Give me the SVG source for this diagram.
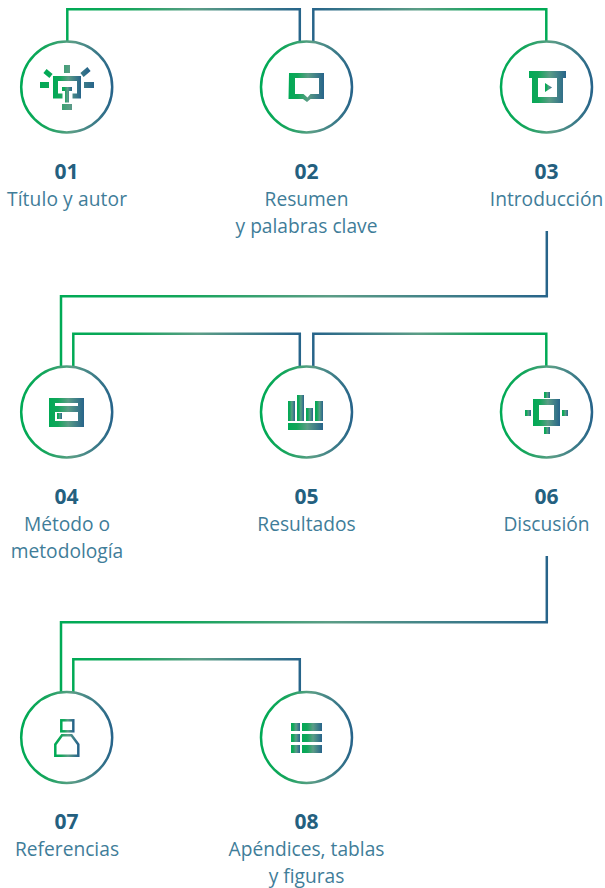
<svg xmlns="http://www.w3.org/2000/svg" width="605" height="888" viewBox="0 0 605 888">
<defs>
<linearGradient id="g"><stop offset="0" stop-color="#00aa55"/><stop offset=".25" stop-color="#12a65a"/><stop offset=".55" stop-color="#5b9d86"/><stop offset="1" stop-color="#27648a"/></linearGradient>
<linearGradient id="r" x1="1" x2="0"><stop offset="0" stop-color="#00aa55"/><stop offset=".25" stop-color="#12a65a"/><stop offset=".55" stop-color="#5b9d86"/><stop offset="1" stop-color="#27648a"/></linearGradient>
</defs>
<style>
.c{fill:none;stroke:url(#g);stroke-width:2.5}
.cr{fill:none;stroke:url(#r);stroke-width:2.5}
.f{fill:url(#g)}
.s{fill:none;stroke:url(#g)}
text{font-family:"Open Sans","Noto Sans","Liberation Sans",sans-serif;text-anchor:middle}
.n{font-size:21px;font-weight:700;fill:#24607f}
.l{font-size:19.2px;fill:#3f7d99}
</style>
<g id="connectors">
<path class="c" d="M67.300 41V9.300H299.800V41"/>
<path class="cr" d="M313.300 41V9.300H546.300V41"/>
<path class="c" d="M546.800 231V296.300H61V366"/>
<path class="c" d="M73.300 366V333.800H299.800V366"/>
<path class="cr" d="M313.300 366V333.800H546.300V366"/>
<path class="c" d="M546.800 556V622.300H61V692"/>
<path class="c" d="M73.300 692V659.300H299.800V692"/>
</g>
<g id="node-01">
<circle class="c" cx="66.700" cy="87" r="45.500"/>
<path class="f" d="M64 65h6v8h-6zM40 82h9v6h-9zM84 82h10v6h-10zM62 104h10v6h-10z"/>
<path class="s" stroke-width="5" d="M45 71l6 5M89 69l-7 6"/>
<path class="f" fill-rule="evenodd" d="M53 76h28v22.500h-8.500v-5h4.500v-12.500h-19v12.500h4.500v5h-9.500z"/>
<path class="f" d="M62 87h10v4h-3v11.500h-4v-11.500h-3z"/>
<text class="n" x="66.500" y="178.500">01</text>
<text class="l" x="67" y="205.500" textLength="120" lengthAdjust="spacing">Título y autor</text>
</g>
<g id="node-02">
<circle class="c" cx="306.500" cy="87" r="45.500"/>
<path class="f" fill-rule="evenodd" d="M289 73h35v26h-13.500l-3.500 3-4-3h-14.500zM295 78v16h8.500l4 3.500 3-3.500h8.500v-16z"/>
<text class="n" x="306.500" y="178.500">02</text>
<text class="l" x="306.500" y="205.500">Resumen</text>
<text class="l" x="306.500" y="232.500">y palabras clave</text>
</g>
<g id="node-03">
<circle class="c" cx="546.500" cy="87" r="45.500"/>
<path class="f" fill-rule="evenodd" d="M529 71h37v7h-3v25h-31v-25h-3zM538 78v19h19v-19z"/>
<path class="f" d="M545 83l7 4.500-7 4.500z"/>
<text class="n" x="546.500" y="178.500">03</text>
<text class="l" x="546.500" y="205.500">Introducción</text>
</g>
<g id="node-04">
<circle class="c" cx="66.700" cy="412" r="45.500"/>
<path class="f" fill-rule="evenodd" d="M49 398h35v29h-35zM55 403v3h23v-3zM55 412v9h23v-9z"/>
<rect class="f" x="57" y="413" width="5" height="6"/>
<text class="n" x="66.500" y="503.500">04</text>
<text class="l" x="67" y="530.500">Método o</text>
<text class="l" x="67" y="557.500">metodología</text>
</g>
<g id="node-05">
<circle class="c" cx="306.500" cy="412" r="45.500"/>
<rect class="f" x="288" y="401" width="7" height="20"/>
<rect class="f" x="297" y="395" width="7" height="26"/>
<rect class="f" x="306" y="408" width="7" height="13"/>
<rect class="f" x="315" y="401" width="8" height="20"/>
<rect class="f" x="288" y="423" width="35" height="7"/>
<text class="n" x="306.500" y="503.500">05</text>
<text class="l" x="306.500" y="530.500">Resultados</text>
</g>
<g id="node-06">
<circle class="c" cx="546.500" cy="412" r="45.500"/>
<path class="f" fill-rule="evenodd" d="M533 399h27v27h-27zM539 405v15h15v-15z"/>
<rect class="f" x="544" y="392" width="6" height="6"/>
<rect class="f" x="544" y="427" width="6" height="7"/>
<rect class="f" x="525" y="410" width="6" height="6"/>
<rect class="f" x="562" y="410" width="6" height="6"/>
<text class="n" x="546.500" y="503.500">06</text>
<text class="l" x="546.500" y="530.500">Discusión</text>
</g>
<g id="node-07">
<circle class="c" cx="66.700" cy="737.500" r="45.500"/>
<rect class="s" stroke-width="2.500" x="61.300" y="720.300" width="12" height="11"/>
<path class="s" stroke-width="2.500" d="M55.300 755.800V744.500L62 735.300H71.500L78.300 744.500V755.800Z"/>
<text class="n" x="66.500" y="828.500">07</text>
<text class="l" x="67" y="855.500">Referencias</text>
</g>
<g id="node-08">
<circle class="c" cx="306.500" cy="737.500" r="45.500"/>
<rect class="f" x="291" y="723" width="9" height="8"/><rect class="f" x="302" y="723" width="20" height="8"/>
<rect class="f" x="291" y="734" width="9" height="8"/><rect class="f" x="302" y="734" width="20" height="8"/>
<rect class="f" x="291" y="745" width="9" height="8"/><rect class="f" x="302" y="745" width="20" height="8"/>
<text class="n" x="306.500" y="828.500">08</text>
<text class="l" x="306.500" y="855.500">Apéndices, tablas</text>
<text class="l" x="306.500" y="882.500">y figuras</text>
</g>
</svg>
